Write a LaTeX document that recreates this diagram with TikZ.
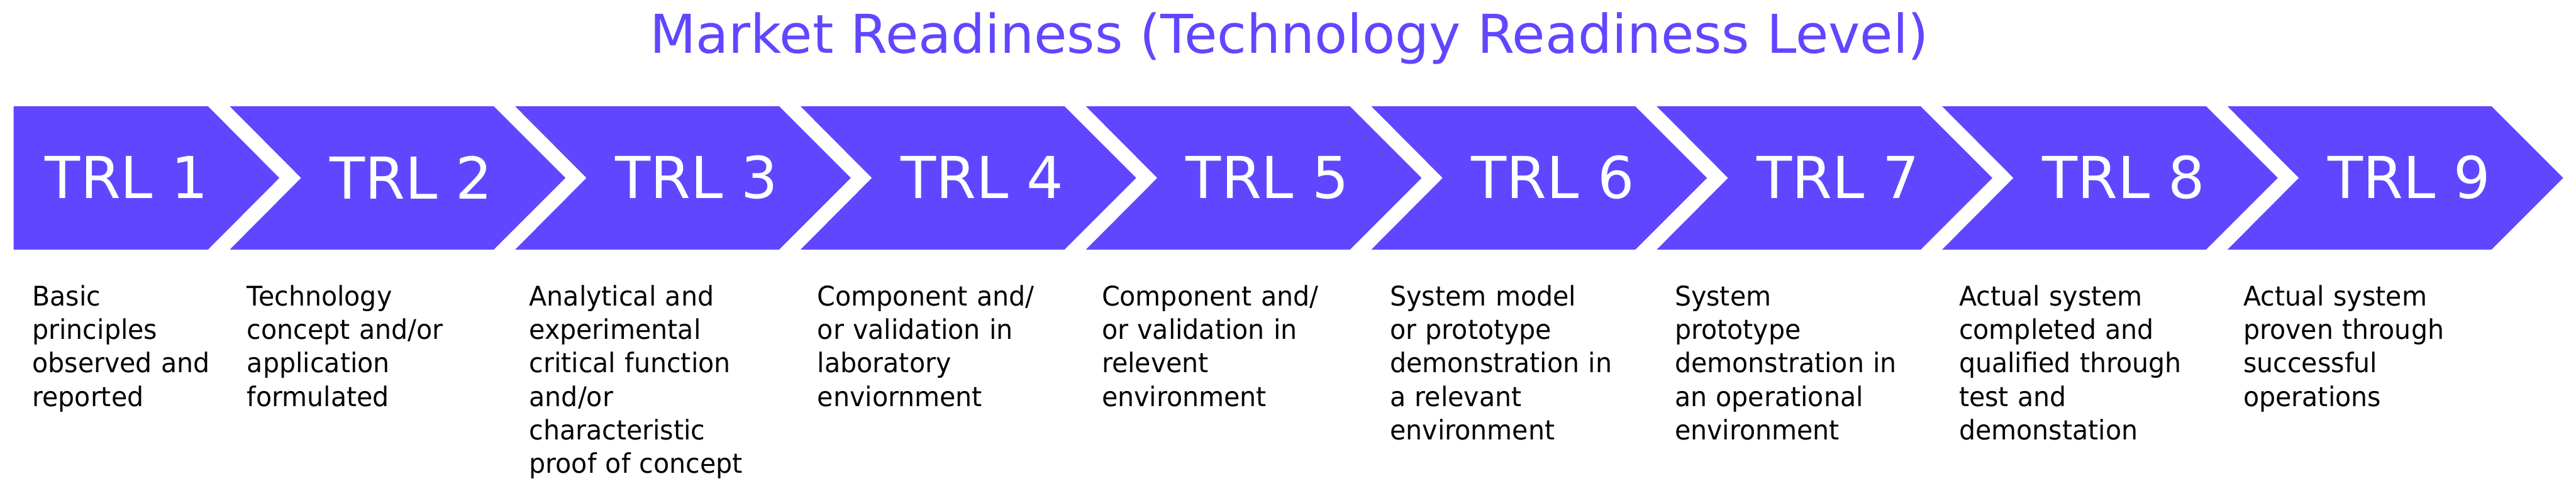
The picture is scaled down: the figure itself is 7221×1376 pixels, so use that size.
\documentclass[tikz,border=0pt]{standalone}
\usepackage{fontspec}
\setmainfont{DejaVu Sans}
\newfontfamily\descfont[FakeStretch=0.955]{DejaVu Sans}
\usepackage{tikz}
\definecolor{trlblue}{RGB}{96,71,255}

\begin{document}
\begin{tikzpicture}[x=0.1mm, y=-0.1mm,
    chevron/.style={fill=trlblue, draw=none},
    levellabel/.style={text=white, inner sep=0pt, font=\fontsize{46.1}{50}\selectfont},
    desc/.style={anchor=base west, inner sep=0pt, text width=7.6cm, align=left,
      font=\descfont\fontsize{21.6}{26.75}\selectfont},
    heading/.style={text=trlblue, inner sep=0pt, anchor=base, font=\fontsize{42.7}{48}\selectfont}]
  \useasboundingbox (0,0) rectangle (7221,1376);
  % title
  \node[heading] (title) at (3614,149) {Market Readiness (Technology Readiness Level)};
  % first chevron (flat left end)
  \fill[chevron] (38,298) -- (583,298) -- (783,499) -- (583,700) -- (38,700) -- cycle;
  % chevrons 2..9 (notched left end)
  \foreach \k in {2,...,9} {
    \pgfmathsetmacro{\L}{644+800*(\k-2)}
    \fill[chevron] (\L,298) -- ++(740,0) -- ++(201,201) -- ++(-201,201)
      -- ++(-740,0) -- ++(200,-201) -- cycle;
  }
  % level labels
  \node[levellabel] (trl1) at (355,498) {TRL 1};
  \node[levellabel] (trl2) at (1153,498) {TRL 2};
  \node[levellabel] (trl3) at (1953,498) {TRL 3};
  \node[levellabel] (trl4) at (2753,498) {TRL 4};
  \node[levellabel] (trl5) at (3553,498) {TRL 5};
  \node[levellabel] (trl6) at (4353,498) {TRL 6};
  \node[levellabel] (trl7) at (5153,498) {TRL 7};
  \node[levellabel] (trl8) at (5953,498) {TRL 8};
  \node[levellabel] (trl9) at (6753,498) {TRL 9};
  % descriptions below the chevrons
  \node[desc] (desc1) at (90,857) {Basic\\principles\\observed and\\reported};
  \node[desc] (desc2) at (692,857) {Technology\\concept and/or\\application\\formulated};
  \node[desc] (desc3) at (1483,857) {Analytical and\\experimental\\critical function\\and/or\\characteristic\\proof of concept};
  \node[desc] (desc4) at (2291,857) {Component and/\\or validation in\\laboratory\\enviornment};
  \node[desc] (desc5) at (3088,857) {Component and/\\or validation in\\relevent\\environment};
  \node[desc] (desc6) at (3896,857) {System model\\or prototype\\demonstration in\\a relevant\\environment};
  \node[desc] (desc7) at (4694,857) {System\\prototype\\demonstration in\\an operational\\environment};
  \node[desc] (desc8) at (5491,857) {Actual system\\completed and\\qualified through\\test and\\demonstation};
  \node[desc] (desc9) at (6288,857) {Actual system\\proven through\\successful\\operations};
\end{tikzpicture}
\end{document}
